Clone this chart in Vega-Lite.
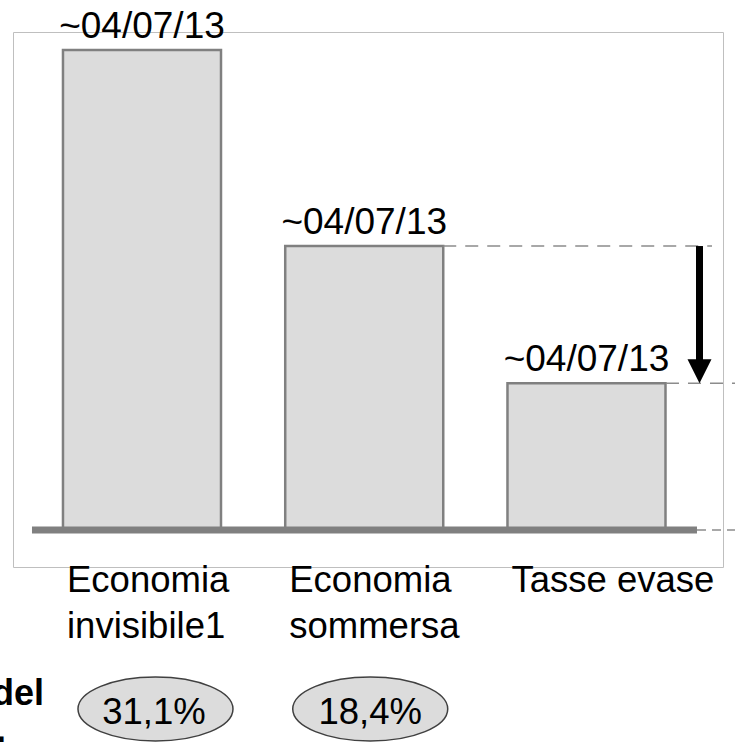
{
  "$schema": "https://vega.github.io/schema/vega-lite/v6.json",
  "width": 710,
  "height": 535,
  "autosize": {"type": "none"},
  "padding": {"left": 13, "top": 32, "right": 12, "bottom": 189},
  "background": "white",
  "config": {"view": {"stroke": "#bfbfbf", "strokeWidth": 1}, "font": "Liberation Sans"},
  "datasets": {
    "bars": [
      {"category": "Economia invisibile1", "value": 31.1, "label": "~04/07/13", "pct": "31,1%"},
      {"category": "Economia sommersa", "value": 18.4, "label": "~04/07/13", "pct": "18,4%"},
      {"category": "Tasse evase", "value": 9.5, "label": "~04/07/13"}
    ]
  },
  "data": {"name": "bars"},
  "layer": [
    {
      "mark": {"type": "bar", "fill": "#dcdcdc", "stroke": "#808080", "strokeWidth": 2.5},
      "encoding": {
        "x": {
          "field": "category", "type": "nominal", "sort": null, "title": null,
          "scale": {"paddingInner": 0.289, "paddingOuter": 0.2418, "align": 0.465},
          "axis": null
        },
        "y": {"field": "value", "type": "quantitative", "scale": {"domain": [-2.4, 32.27], "nice": false, "zero": false}, "axis": null},
        "y2": {"datum": 0}
      }
    },
    {
      "mark": {"type": "text", "fontSize": 37, "baseline": "alphabetic", "align": "center", "dy": -12, "color": "#000000"},
      "encoding": {
        "x": {"field": "category", "type": "nominal", "sort": null, "axis": null},
        "y": {"field": "value", "type": "quantitative", "axis": null},
        "text": {"field": "label"}
      }
    },
    {
      "transform": [{"filter": "datum.category !== 'Tasse evase'"}],
      "mark": {"type": "text", "fontSize": 36.5, "baseline": "alphabetic", "align": "left", "lineBreak": " ", "lineHeight": 46, "xOffset": -75, "dy": 25, "color": "#000000"},
      "encoding": {
        "x": {"field": "category", "type": "nominal", "sort": null, "axis": null},
        "y": {"value": "height"},
        "text": {"field": "category"}
      }
    },
    {
      "transform": [{"filter": "datum.category === 'Tasse evase'"}],
      "mark": {"type": "text", "fontSize": 36.5, "baseline": "alphabetic", "align": "left", "xOffset": -75, "dy": 25, "color": "#000000"},
      "encoding": {
        "x": {"field": "category", "type": "nominal", "sort": null, "axis": null},
        "y": {"value": "height"},
        "text": {"field": "category"}
      }
    },
    {
      "data": {"values": [{}]},
      "mark": {"type": "rule", "color": "#808080", "strokeWidth": 7, "strokeCap": "butt", "xOffset": -110, "x2Offset": 110.5},
      "encoding": {
        "x": {"datum": "Economia invisibile1", "axis": null},
        "x2": {"datum": "Tasse evase"},
        "y": {"datum": 0, "axis": null}
      }
    },
    {
      "transform": [{"filter": "datum.category === 'Economia sommersa'"}],
      "mark": {"type": "rule", "color": "#8c8c8c", "strokeWidth": 1.5, "strokeDash": [13, 9], "xOffset": 79, "x2Offset": 125.5},
      "encoding": {
        "x": {"field": "category", "type": "nominal", "axis": null},
        "x2": {"datum": "Tasse evase"},
        "y": {"field": "value", "type": "quantitative", "axis": null}
      }
    },
    {
      "transform": [{"filter": "datum.category === 'Tasse evase'"}],
      "mark": {"type": "rule", "color": "#8c8c8c", "strokeWidth": 1.5, "strokeDash": [13, 9], "xOffset": 79.5, "x2Offset": 148.5},
      "encoding": {
        "x": {"field": "category", "type": "nominal", "axis": null},
        "x2": {"field": "category"},
        "y": {"field": "value", "type": "quantitative", "axis": null}
      }
    },
    {
      "data": {"values": [{}]},
      "mark": {"type": "rule", "color": "#8c8c8c", "strokeWidth": 1.5, "strokeDash": [9, 6], "xOffset": 110.5, "x2Offset": 148.5},
      "encoding": {
        "x": {"datum": "Tasse evase", "axis": null},
        "x2": {"datum": "Tasse evase"},
        "y": {"datum": 0, "axis": null}
      }
    },
    {
      "transform": [{"pivot": "category", "value": "value"}],
      "mark": {"type": "rule", "color": "#000000", "strokeWidth": 7, "strokeCap": "butt", "xOffset": 113, "y2Offset": -22},
      "encoding": {
        "x": {"datum": "Tasse evase", "axis": null},
        "y": {"field": "Economia sommersa", "type": "quantitative", "axis": null},
        "y2": {"field": "Tasse evase"}
      }
    },
    {
      "transform": [{"filter": "datum.category === 'Tasse evase'"}],
      "mark": {"type": "point", "shape": "M-1,-2L1,-2L0,0Z", "size": 576, "filled": true, "color": "#000000", "opacity": 1, "strokeWidth": 0, "xOffset": 113},
      "encoding": {
        "x": {"field": "category", "type": "nominal", "axis": null},
        "y": {"field": "value", "type": "quantitative", "axis": null}
      }
    },
    {
      "transform": [{"filter": "isValid(datum.pct)"}],
      "mark": {
        "type": "point",
        "shape": "M-1,0C-1,-0.228,-0.552,-0.413,0,-0.413C0.552,-0.413,1,-0.228,1,0C1,0.228,0.552,0.413,0,0.413C-0.552,0.413,-1,0.228,-1,0Z",
        "size": 24025, "filled": true, "fill": "#dcdcdc", "stroke": "#404040", "strokeWidth": 1.5, "opacity": 1,
        "xOffset": {"expr": "datum.category == 'Economia invisibile1' ? 13.5 : 6"}
      },
      "encoding": {
        "x": {"field": "category", "type": "nominal", "axis": null},
        "y": {"datum": -11.6, "axis": null}
      }
    },
    {
      "transform": [{"filter": "isValid(datum.pct)"}],
      "mark": {"type": "text", "fontSize": 36.5, "baseline": "alphabetic", "align": "center", "dy": 15, "color": "#000000",
        "xOffset": {"expr": "datum.category == 'Economia invisibile1' ? 12 : 6"}},
      "encoding": {
        "x": {"field": "category", "type": "nominal", "axis": null},
        "y": {"datum": -11.6, "axis": null},
        "text": {"field": "pct"}
      }
    },
    {
      "data": {"values": [{"note": "In % del"}]},
      "mark": {"type": "text", "fontSize": 36, "fontWeight": "bold", "baseline": "alphabetic", "align": "right", "dy": -4, "xOffset": -98, "color": "#000000"},
      "encoding": {
        "x": {"datum": "Economia invisibile1", "axis": null},
        "y": {"datum": -11.6, "axis": null},
        "text": {"field": "note"}
      }
    },
    {
      "data": {"values": [{"note": "PIL."}]},
      "mark": {"type": "text", "fontSize": 36, "fontWeight": "bold", "baseline": "alphabetic", "align": "right", "dy": 33, "xOffset": -136, "color": "#000000"},
      "encoding": {
        "x": {"datum": "Economia invisibile1", "axis": null},
        "y": {"datum": -11.6, "axis": null},
        "text": {"field": "note"}
      }
    }
  ]
}
